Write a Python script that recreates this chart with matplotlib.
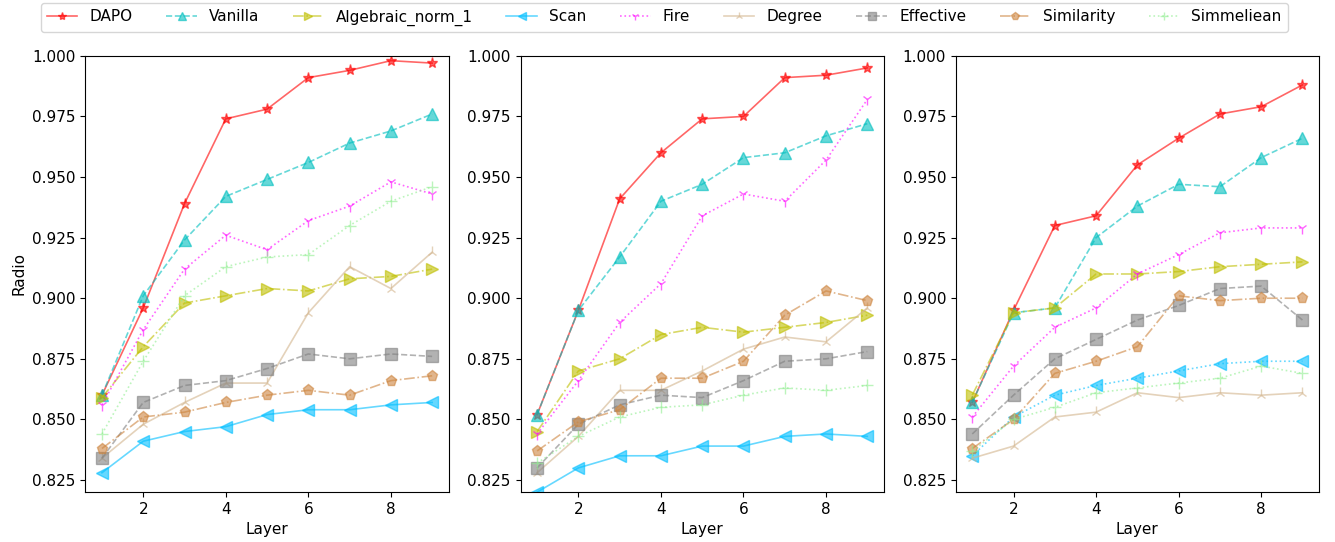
import matplotlib
matplotlib.use('Agg')
import matplotlib.pyplot as plt

plt.rcParams['font.size'] = 11

layers = [1, 2, 3, 4, 5, 6, 7, 8, 9]
methods = ['DAPO', 'Vanilla', 'Algebraic_norm_1', 'Scan', 'Fire', 'Degree',
           'Effective', 'Similarity', 'Simmeliean']

# panel 1
p1_dapo = [0.860, 0.896, 0.939, 0.974, 0.978, 0.991, 0.994, 0.998, 0.997]
p1_vanilla = [0.860, 0.901, 0.924, 0.942, 0.949, 0.956, 0.964, 0.969, 0.976]
p1_algebraic = [0.859, 0.880, 0.898, 0.901, 0.904, 0.903, 0.908, 0.909, 0.912]
p1_scan = [0.828, 0.841, 0.845, 0.847, 0.852, 0.854, 0.854, 0.856, 0.857]
p1_fire = [0.856, 0.887, 0.912, 0.926, 0.920, 0.932, 0.938, 0.948, 0.943]
p1_degree = [0.834, 0.848, 0.857, 0.865, 0.865, 0.894, 0.913, 0.904, 0.919]
p1_effective = [0.834, 0.857, 0.864, 0.866, 0.871, 0.877, 0.875, 0.877, 0.876]
p1_similarity = [0.838, 0.851, 0.853, 0.857, 0.860, 0.862, 0.860, 0.866, 0.868]
p1_simmeliean = [0.844, 0.874, 0.901, 0.913, 0.917, 0.918, 0.930, 0.940, 0.946]

# panel 2
p2_dapo = [0.852, 0.895, 0.941, 0.960, 0.974, 0.975, 0.991, 0.992, 0.995]
p2_vanilla = [0.852, 0.895, 0.917, 0.940, 0.947, 0.958, 0.960, 0.967, 0.972]
p2_algebraic = [0.845, 0.870, 0.875, 0.885, 0.888, 0.886, 0.888, 0.890, 0.893]
p2_scan = [0.820, 0.830, 0.835, 0.835, 0.839, 0.839, 0.843, 0.844, 0.843]
p2_fire = [0.844, 0.866, 0.890, 0.906, 0.934, 0.943, 0.940, 0.957, 0.982]
p2_degree = [0.828, 0.843, 0.862, 0.862, 0.870, 0.879, 0.884, 0.882, 0.896]
p2_effective = [0.830, 0.848, 0.856, 0.860, 0.859, 0.866, 0.874, 0.875, 0.878]
p2_similarity = [0.837, 0.849, 0.854, 0.867, 0.867, 0.874, 0.893, 0.903, 0.899]
p2_simmeliean = [0.832, 0.843, 0.851, 0.855, 0.856, 0.860, 0.863, 0.862, 0.864]

# panel 3
p3_dapo = [0.857, 0.895, 0.930, 0.934, 0.955, 0.966, 0.976, 0.979, 0.988]
p3_vanilla = [0.857, 0.894, 0.896, 0.925, 0.938, 0.947, 0.946, 0.958, 0.966]
p3_algebraic = [0.860, 0.894, 0.896, 0.910, 0.910, 0.911, 0.913, 0.914, 0.915]
p3_scan = [0.835, 0.851, 0.860, 0.864, 0.867, 0.870, 0.873, 0.874, 0.874]
p3_fire = [0.851, 0.872, 0.888, 0.896, 0.910, 0.918, 0.927, 0.929, 0.929]
p3_degree = [0.834, 0.839, 0.851, 0.853, 0.861, 0.859, 0.861, 0.860, 0.861]
p3_effective = [0.844, 0.860, 0.875, 0.883, 0.891, 0.897, 0.904, 0.905, 0.891]
p3_similarity = [0.838, 0.850, 0.869, 0.874, 0.880, 0.901, 0.899, 0.900, 0.900]
p3_simmeliean = [0.837, 0.850, 0.855, 0.861, 0.863, 0.865, 0.867, 0.872, 0.869]

panels = [
    [p1_dapo, p1_vanilla, p1_algebraic, p1_scan, p1_fire, p1_degree, p1_effective, p1_similarity, p1_simmeliean],
    [p2_dapo, p2_vanilla, p2_algebraic, p2_scan, p2_fire, p2_degree, p2_effective, p2_similarity, p2_simmeliean],
    [p3_dapo, p3_vanilla, p3_algebraic, p3_scan, p3_fire, p3_degree, p3_effective, p3_similarity, p3_simmeliean],
]

colors = ['red', 'c', 'y', 'deepskyblue', 'magenta', 'tan', 'gray', 'peru', 'lightgreen']
markers = ['*', '^', '>', '<', '1', '2', 's', 'p', '+']
styles = ['-', '--', '-.', '-', ':', '-', '--', '-.', ':']
scan_style = ['-', '-', ':']  # scan is dotted in the last panel

fig, axes = plt.subplots(1, 3, figsize=(13.35, 5.42), dpi=100)
plt.subplots_adjust(left=0.064, right=0.988, top=0.897, bottom=0.092, wspace=0.198)

for k, ax in enumerate(axes):
    for i, name in enumerate(methods):
        ls = styles[i]
        if name == 'Scan':
            ls = scan_style[k]
        ax.plot(layers, panels[k][i], color=colors[i], marker=markers[i], linestyle=ls,
                markersize=8, linewidth=1.2, alpha=0.6, label=name)
    ax.set_ylim(0.82, 1.0)
    ax.set_xlabel('Layer')
    if k == 0:
        ax.set_ylabel('Radio')

handles, labels = axes[0].get_legend_handles_labels()
fig.legend(handles, labels, loc='upper center', bbox_to_anchor=(0.4975, 1.008), ncol=9,
           fontsize=11, markerscale=0.75, columnspacing=2.2)

plt.savefig('out.png', dpi=100)
